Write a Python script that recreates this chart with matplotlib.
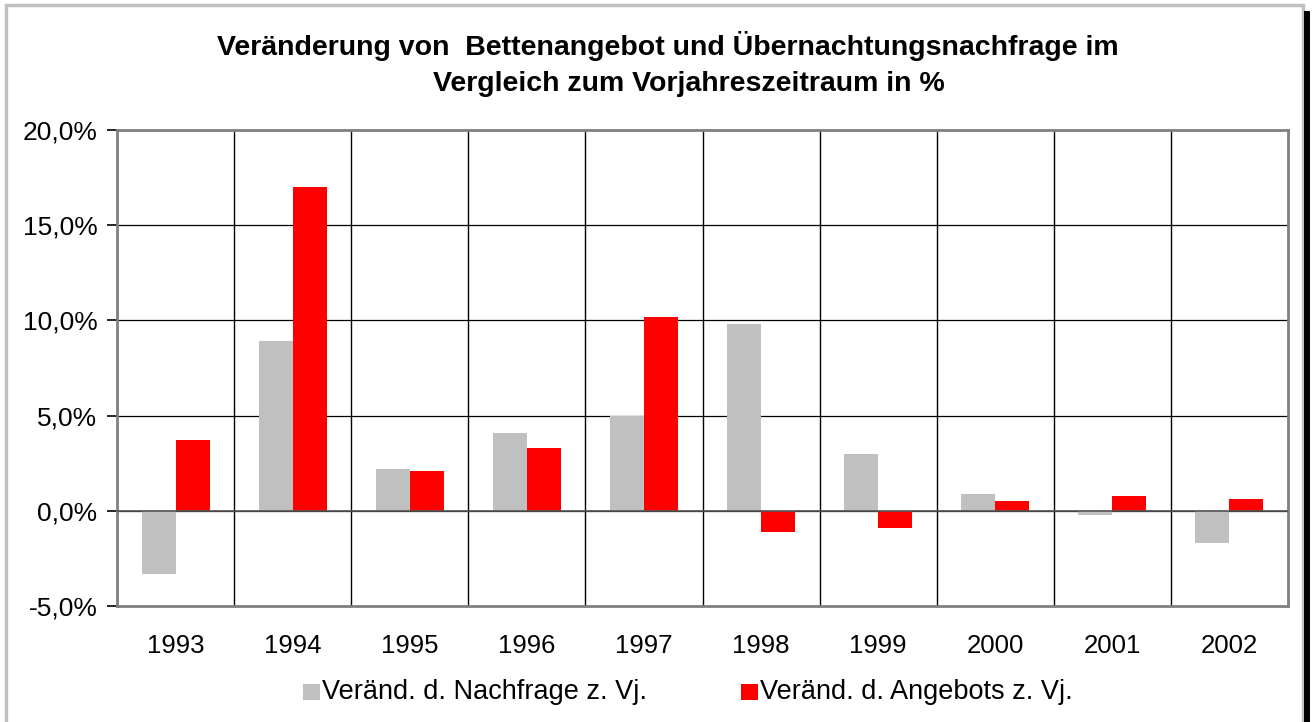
import matplotlib.pyplot as plt
import numpy as np
from matplotlib.patches import Rectangle

plt.rcParams['font.family'] = ['Liberation Sans', 'DejaVu Sans']

# Data
years = ["1993", "1994", "1995", "1996", "1997", "1998", "1999", "2000", "2001", "2002"]
nachfrage = [-3.3, 8.9, 2.2, 4.1, 5.0, 9.8, 3.0, 0.9, -0.2, -1.7]
angebot = [3.7, 17.0, 2.1, 3.3, 10.2, -1.1, -0.9, 0.5, 0.8, 0.6]
yticks = [-5, 0, 5, 10, 15, 20]
labels = ["Veränd. d. Nachfrage z. Vj.", "Veränd. d. Angebots z. Vj."]
colors = ["#c0c0c0", "#ff0000"]

W, H = 1314, 722
fig = plt.figure(figsize=(W / 100, H / 100), dpi=100)
ax = fig.add_axes([117 / W, 1 - 606 / H, 1171 / W, 476 / H])

# outer frame (bottom edge runs off the image) with dark shadow on the right
fig.patches.append(Rectangle((6 / W, -0.1), 1297 / W, 1.1 - 5 / H,
                             transform=fig.transFigure, fill=False,
                             edgecolor="#c0c0c0", linewidth=2.5))
fig.patches.append(Rectangle((1304 / W, 0), 6 / W, 1 - 11 / H,
                             transform=fig.transFigure, facecolor="black",
                             edgecolor="none"))

x = np.arange(len(years))
w = 0.29
ax.bar(x - w / 2, nachfrage, w, color=colors[0], zorder=2)
ax.bar(x + w / 2, angebot, w, color=colors[1], zorder=2)

ax.set_xlim(-0.5, len(years) - 0.5)
ax.set_ylim(-5, 20)

# gridlines
for y in yticks[1:-1]:
    ax.axhline(y, color="black", linewidth=0.9, zorder=1)
ax.axhline(0, color="#555555", linewidth=1.2, zorder=3)
for b in x[:-1] + 0.5:
    ax.axvline(b, color="black", linewidth=1.0, zorder=1)

for s in ax.spines.values():
    s.set_color("#808080")
    s.set_linewidth(2)

ax.set_yticks(yticks)
ax.set_yticklabels([f"{v:.1f}%".replace(".", ",") for v in yticks], fontsize=19)
ax.tick_params(axis="y", length=7, width=1.2, color="black", pad=7)
ax.set_xticks(x)
ax.set_xticklabels(years, fontsize=18.5)
ax.tick_params(axis="x", length=0, pad=20)

fig.text(668 / W, 1 - 46 / H, "Veränderung von  Bettenangebot und Übernachtungsnachfrage im",
         ha="center", va="center", fontsize=20.5, fontweight="bold")
fig.text(689 / W, 1 - 84 / H, "Vergleich zum Vorjahreszeitraum in %",
         ha="center", va="center", fontsize=20.5, fontweight="bold")

# legend
for lx, c, lab in zip([303, 741], colors, labels):
    fig.patches.append(Rectangle((lx / W, 1 - 700 / H), 17 / W, 16 / H,
                                 transform=fig.transFigure, facecolor=c,
                                 edgecolor="none"))
    fig.text((lx + 19) / W, 1 - 692 / H, lab, ha="left", va="center",
             fontsize=19.5)

fig.savefig("out.png", dpi=100, facecolor="white")
